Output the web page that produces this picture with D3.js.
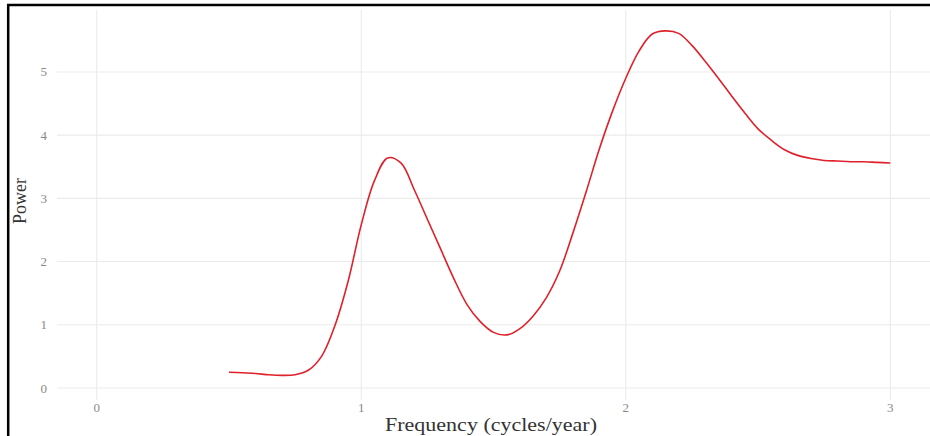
<!DOCTYPE html>
<html><head><meta charset="utf-8">
<script src="https://cdn.jsdelivr.net/npm/d3@7/dist/d3.min.js"></script>
<style>html,body{margin:0;padding:0;background:#fff;}svg{display:block;}</style>
</head><body>
<script>
const freq = [0.50,0.55,0.60,0.65,0.70,0.75,0.80,0.85,0.90,0.95,1.00,1.05,1.10,1.15,1.20,1.25,1.30,1.35,1.40,1.45,1.50,1.55,1.60,1.65,1.70,1.75,1.80,1.85,1.90,1.95,2.00,2.05,2.10,2.15,2.20,2.25,2.30,2.35,2.40,2.45,2.50,2.55,2.60,2.65,2.70,2.75,2.80,2.85,2.90,2.95,3.00];
const power = [0.25,0.24,0.23,0.21,0.20,0.21,0.28,0.50,0.98,1.68,2.58,3.28,3.64,3.56,3.14,2.67,2.20,1.73,1.32,1.05,0.88,0.84,0.94,1.14,1.43,1.85,2.45,3.10,3.78,4.38,4.90,5.33,5.60,5.65,5.61,5.42,5.17,4.90,4.62,4.35,4.10,3.92,3.77,3.68,3.63,3.60,3.59,3.58,3.58,3.57,3.56];
const xTicks = [0,1,2,3];
const yTicks = [0,1,2,3,4,5];
const xTitle = "Frequency (cycles/year)";
const yTitle = "Power";

const W = 930, H = 436;
const svg = d3.select("body").append("svg").attr("width", W).attr("height", H);
const x = d3.scaleLinear().domain([-0.15, 3.15]).range([57, 930]);
const y = d3.scaleLinear().domain([-0.19, 5.98]).range([400, 10]);

// gridlines
svg.append("g").selectAll("line").data(yTicks).join("line")
  .attr("x1", x(-0.15)).attr("x2", x(3.15))
  .attr("y1", d => y(d)).attr("y2", d => y(d))
  .attr("stroke", "#ebebeb").attr("stroke-width", 1.1);
svg.append("g").selectAll("line").data(xTicks).join("line")
  .attr("y1", y(-0.19)).attr("y2", y(5.98))
  .attr("x1", d => x(d)).attr("x2", d => x(d))
  .attr("stroke", "#ebebeb").attr("stroke-width", 1.1);

// tick labels
svg.append("g").selectAll("text").data(yTicks).join("text")
  .attr("x", 47).attr("y", d => y(d)).attr("dy", "0.35em")
  .attr("text-anchor", "end")
  .attr("font-family", "Liberation Serif, serif").attr("font-size", 13)
  .attr("fill", "#8a8a8a").text(d => d);
svg.append("g").selectAll("text").data(xTicks).join("text")
  .attr("x", d => x(d)).attr("y", 412)
  .attr("text-anchor", "middle")
  .attr("font-family", "Liberation Serif, serif").attr("font-size", 13)
  .attr("fill", "#8a8a8a").text(d => d);

// titles
svg.append("text").attr("x", 491).attr("y", 431)
  .attr("text-anchor", "middle")
  .attr("font-family", "Liberation Serif, serif").attr("font-size", 19)
  .attr("textLength", 212).attr("lengthAdjust", "spacingAndGlyphs")
  .attr("fill", "#333").text(xTitle);
svg.append("text").attr("transform", "translate(26,201) rotate(-90)")
  .attr("text-anchor", "middle")
  .attr("font-family", "Liberation Serif, serif").attr("font-size", 18)
  .attr("fill", "#333").text(yTitle);

// line
const line = d3.line().x((d, i) => x(freq[i])).y(d => y(d)).curve(d3.curveCatmullRom.alpha(0.5));
svg.append("path").datum(power).attr("d", line)
  .attr("fill", "none").attr("stroke", "#e0202a").attr("stroke-width", 1.6)
  .attr("stroke-linejoin", "round");

// border (top and left)
svg.append("line").attr("x1", 7).attr("x2", W).attr("y1", 5).attr("y2", 5)
  .attr("stroke", "#000").attr("stroke-width", 2.5);
svg.append("line").attr("x1", 8.2).attr("x2", 8.2).attr("y1", 4).attr("y2", H)
  .attr("stroke", "#000").attr("stroke-width", 2.5);
</script>
</body></html>
